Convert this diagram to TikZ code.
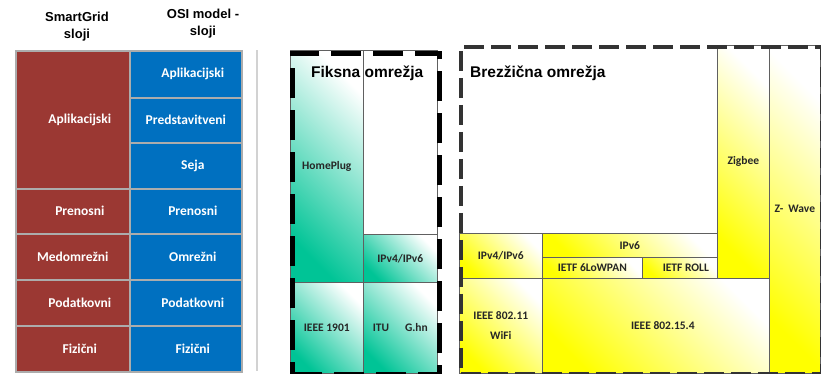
\documentclass[tikz,border=0pt]{standalone}
\usepackage{fontspec}
\setmainfont{Carlito}
\newfontfamily\headfont{Liberation Sans}
\definecolor{sgred}{RGB}{155,56,51}
\definecolor{osiblue}{RGB}{0,112,192}
\definecolor{fixteal}{RGB}{0,196,150}
\definecolor{wlyellow}{RGB}{255,255,0}

\begin{document}
\begin{tikzpicture}[x=1pt, y=-1pt,
  layer/.style={draw=gray!65, line width=1.6pt, text=white, inner sep=0pt, anchor=north west,
    font=\fontsize{13.5}{16}\selectfont\bfseries},
  sg/.style={layer, fill=sgred, minimum width=114pt},
  osi/.style={layer, fill=osiblue, minimum width=112pt},
  tech/.style={draw=gray!75!black, line width=0.6pt, inner sep=0pt, anchor=north west, align=center,
    text=black!85, font=\fontsize{11.5}{20}\selectfont\bfseries},
  wired/.style={tech, bottom color=fixteal, top color=white, shading angle=-45},
  wireless/.style={tech, bottom color=wlyellow, top color=white, shading angle=-45},
  hdr/.style={align=center, font=\headfont\fontsize{13}{17}\selectfont\bfseries},
  title/.style={anchor=base west, inner sep=0pt, font=\headfont\fontsize{15.5}{18}\selectfont\bfseries}]
  \useasboundingbox (0,0) rectangle (821,373);

  % layer table
  \node[hdr] (sgHead) at (77,26.5) {SmartGrid\\sloji};
  \node[hdr] (osiHead) at (203,24) {OSI model -\\sloji};
  \node[sg, minimum height=138pt] (sgApp) at (15,50) {\hspace*{14pt}Aplikacijski};
  \node[sg, minimum height=45pt] (sgTra) at (15,188) {\hspace*{14pt}Prenosni};
  \node[sg, minimum height=46pt] (sgNet) at (15,233) {Medomrežni};
  \node[sg, minimum height=46pt] (sgDat) at (15,279) {\hspace*{14pt}Podatkovni};
  \node[sg, minimum height=46pt] (sgPhy) at (15,325) {\hspace*{14pt}Fizični};
  \node[osi, minimum height=47pt] (osiApp) at (129,50) {\hspace*{14pt}Aplikacijski};
  \node[osi, minimum height=45pt] (osiPre) at (129,97) {Predstavitveni};
  \node[osi, minimum height=46pt] (osiSes) at (129,142) {\hspace*{14pt}Seja};
  \node[osi, minimum height=45pt] (osiTra) at (129,188) {\hspace*{14pt}Prenosni};
  \node[osi, minimum height=46pt] (osiNet) at (129,233) {\hspace*{14pt}Omrežni};
  \node[osi, minimum height=46pt] (osiDat) at (129,279) {\hspace*{14pt}Podatkovni};
  \node[osi, minimum height=46pt] (osiPhy) at (129,325) {\hspace*{14pt}Fizični};
  \coordinate (sepTop) at (257,50);
  \coordinate (sepBot) at (257,371);
  \draw[gray!35, line width=2.5pt] (sepTop) -- (sepBot);

  % fixed networks
  \node[tech, fill=white, minimum width=74pt, minimum height=184pt] (fixTop) at (363,50) {};
  \node[wired, minimum width=73pt, minimum height=232pt] (homeplug) at (290,50) {HomePlug};
  \node[wired, minimum width=74pt, minimum height=48pt] (fixIp) at (363,234) {IPv4/IPv6};
  \node[wired, minimum width=73pt, minimum height=91pt] (ieee1901) at (290,282) {IEEE 1901};
  \node[wired, minimum width=74pt, minimum height=91pt] (itu) at (363,282) {ITU\hspace{16pt}G.hn};
  \node[title] (fixTitle) at (311,77) {Fiksna omrežja};
  \node[draw=black, line width=4.5pt, dash pattern=on 30pt off 12pt, anchor=north west,
    minimum width=147pt, minimum height=321pt] (fixFrame) at (290,51) {};

  % wireless networks
  \node[wireless, minimum width=52pt, minimum height=233pt] (zigbee) at (717,45) {Zigbee};
  \node[wireless, minimum width=51pt, minimum height=328pt] (zwave) at (769,45) {Z-\hspace{5pt}Wave};
  \node[wireless, minimum width=83pt, minimum height=45pt] (wlIp) at (459,233) {IPv4/IPv6};
  \node[wireless, minimum width=175pt, minimum height=24pt] (ipv6) at (542,233) {IPv6};
  \node[wireless, minimum width=100pt, minimum height=21pt] (lowpan) at (542,257) {IETF 6LoWPAN};
  \node[wireless, minimum width=75pt, minimum height=21pt] (roll) at (642,257) {\hspace*{12pt}IETF ROLL};
  \node[wireless, minimum width=83pt, minimum height=95pt] (wifi) at (459,278) {IEEE 802.11\\WiFi};
  \node[wireless, minimum width=227pt, minimum height=95pt] (ieee154) at (542,278) {\hspace*{14pt}IEEE 802.15.4};
  \node[title] (wlTitle) at (470,77) {Brezžična omrežja};
  \node[draw=black!80, line width=3.5pt, dash pattern=on 20pt off 7pt, anchor=north west,
    minimum width=361pt, minimum height=327pt] (wlFrame) at (459,45) {};
\end{tikzpicture}
\end{document}
